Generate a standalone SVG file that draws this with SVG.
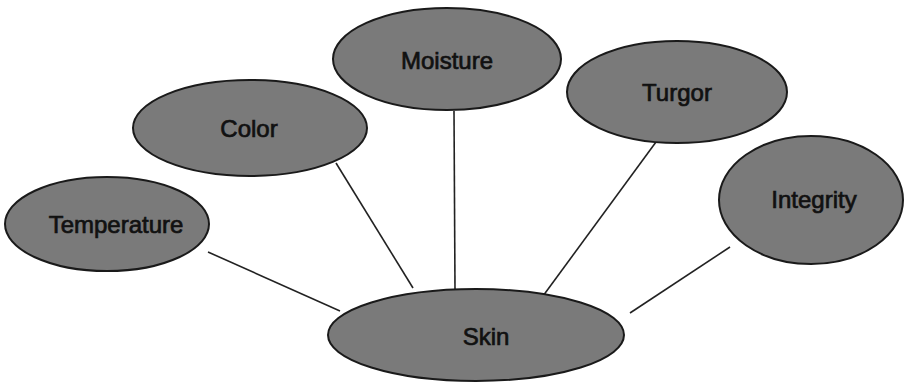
<svg xmlns="http://www.w3.org/2000/svg" width="906" height="383" viewBox="0 0 906 383">
<style>
.node ellipse{fill:#7a7a7a;stroke:#1a1a1a;stroke-width:2}
.node text{font-family:"Liberation Sans",Arial,sans-serif;font-size:24px;fill:#111;stroke:#111;stroke-width:0.7;text-anchor:middle}
.edges line{stroke:#222;stroke-width:1.6}
</style>
<rect width="906" height="383" fill="#fff"/>
<g class="edges">
<line x1="208" y1="252" x2="340" y2="311"/>
<line x1="336" y1="163" x2="413" y2="288"/>
<line x1="454" y1="111" x2="455" y2="289"/>
<line x1="656" y1="142" x2="543" y2="296"/>
<line x1="730" y1="247" x2="630" y2="313"/>
</g>
<g id="temperature" class="node"><ellipse cx="107" cy="224" rx="102" ry="47"/><text x="116" y="233">Temperature</text></g>
<g id="color" class="node"><ellipse cx="250" cy="128" rx="117" ry="48"/><text x="249" y="137">Color</text></g>
<g id="moisture" class="node"><ellipse cx="447" cy="59" rx="114" ry="51"/><text x="447" y="69">Moisture</text></g>
<g id="turgor" class="node"><ellipse cx="677" cy="92" rx="110" ry="51"/><text x="677" y="101">Turgor</text></g>
<g id="integrity" class="node"><ellipse cx="811" cy="200" rx="92" ry="64"/><text x="814" y="208">Integrity</text></g>
<g id="skin" class="node"><ellipse cx="476" cy="335" rx="148" ry="46"/><text x="486" y="345">Skin</text></g>
</svg>
